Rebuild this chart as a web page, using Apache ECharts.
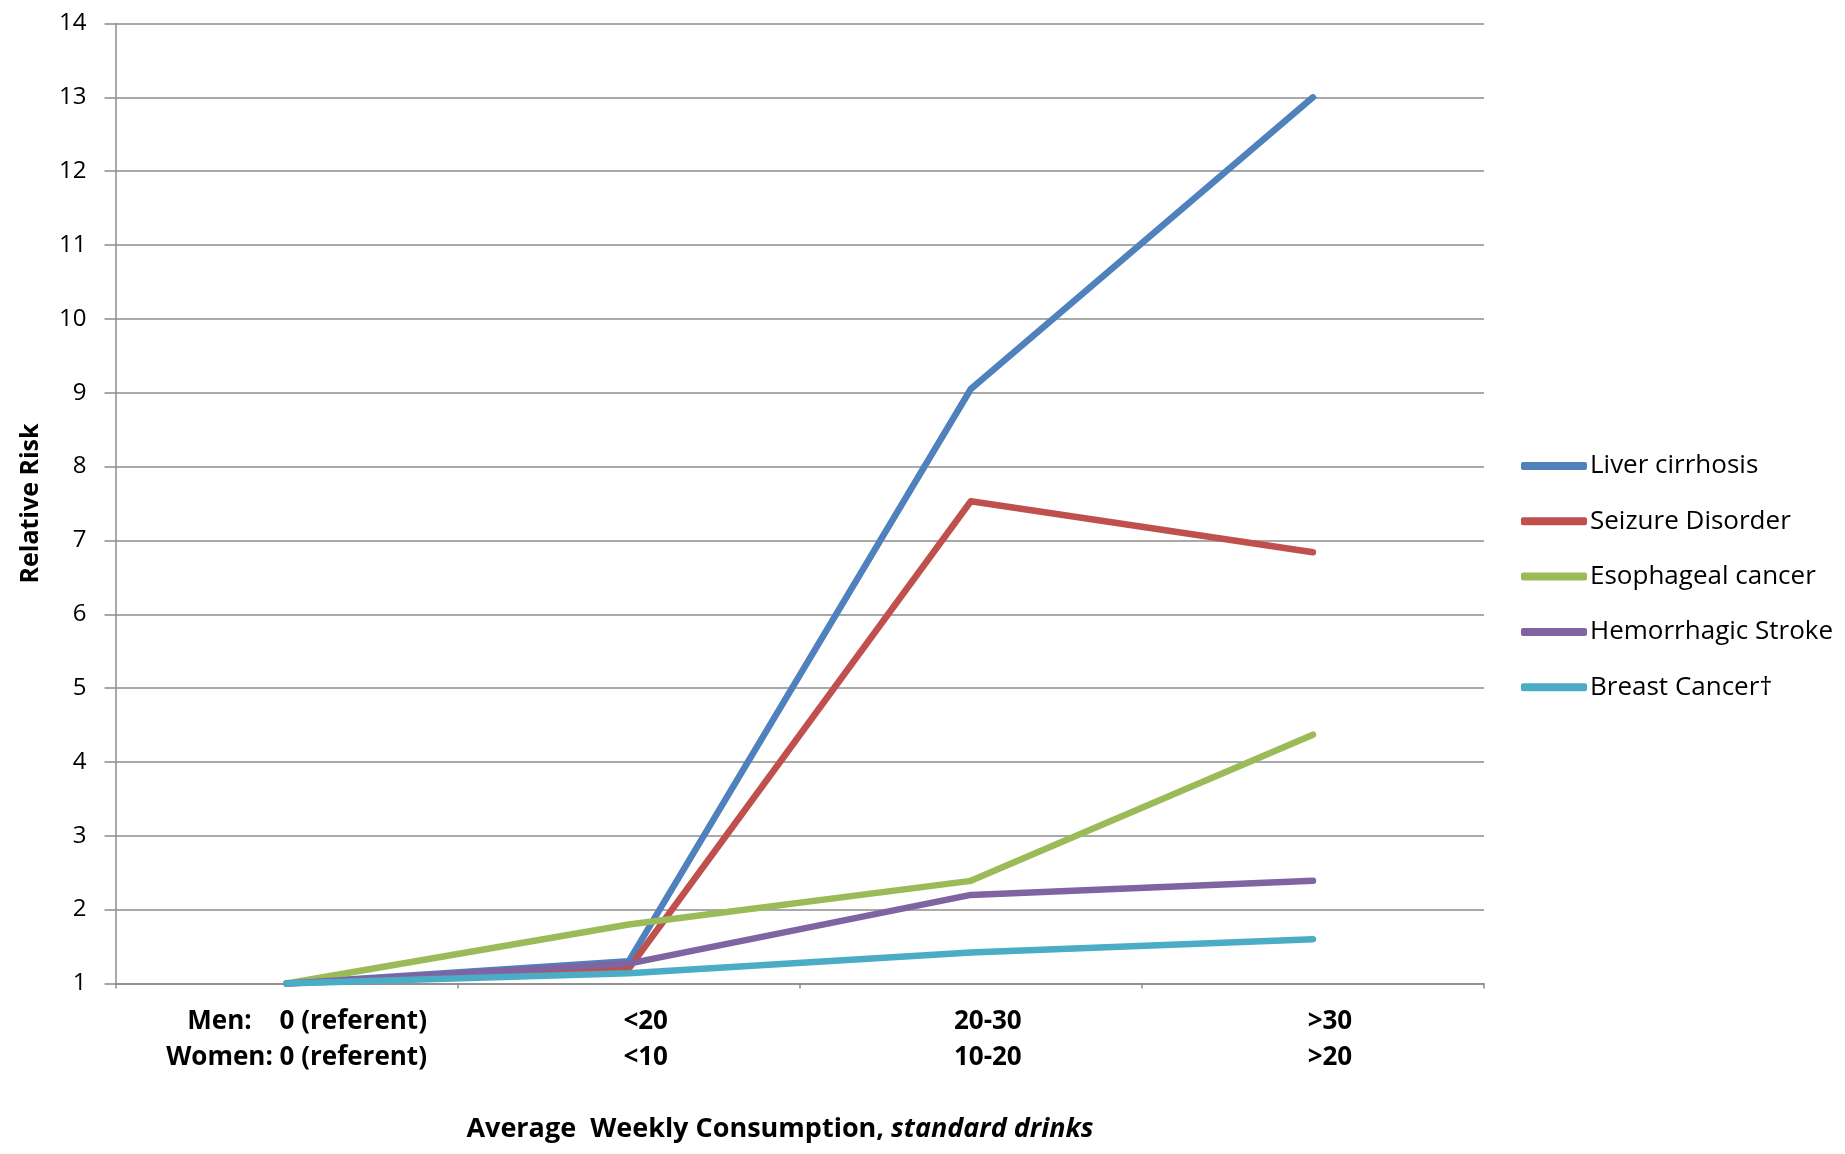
<!DOCTYPE html>
<html><head><meta charset="utf-8">
<script src="https://cdn.jsdelivr.net/npm/echarts@6/dist/echarts.min.js"></script>
<style>html,body{margin:0;padding:0;background:#fff}#c{width:1845px;height:1154px}</style>
</head><body><div id="c"></div>
<script>
// ---- data ----
const menLabels = ['0 (referent)', '<20', '20-30', '>30'];
const womenLabels = ['0 (referent)', '<10', '10-20', '>20'];
const seriesNames = ['Liver cirrhosis', 'Seizure Disorder', 'Esophageal cancer', 'Hemorrhagic Stroke', 'Breast Cancer\u2020'];
const liverCirrhosis = [1, 1.3, 9.05, 13.0];
const seizureDisorder = [1, 1.2, 7.53, 6.84];
const esophagealCancer = [1, 1.8, 2.39, 4.37];
const hemorrhagicStroke = [1, 1.27, 2.2, 2.39];
const breastCancer = [1, 1.14, 1.42, 1.6];
const yMin = 1, yMax = 14, yStep = 1;
const yAxisTitle = 'Relative Risk';
const xTitleMain = 'Average  Weekly Consumption, ';
const xTitleItalic = 'standard drinks';

// ---- style ----
const FONT = '"Open Sans", sans-serif';
const colors = ['#4F81BD', '#C0504D', '#9BBB59', '#8064A2', '#4BACC6'];
const gridGray = '#8c8c8c';

const ctx = document.createElement('canvas').getContext('2d');
ctx.font = 'bold 26px "Open Sans"';
const wWomen = ctx.measureText('Women:').width;
const wMen = ctx.measureText('Men:').width;
const half = (wWomen - wMen) / 2;
const firstShift = 20;

const chart = echarts.init(document.getElementById('c'), null, {renderer: 'canvas'});
const allData = [liverCirrhosis, seizureDisorder, esophagealCancer, hemorrhagicStroke, breastCancer];
const lbl = {fontFamily: FONT, fontWeight: 'bold', fontSize: 26, color: '#000', lineHeight: 36};

chart.setOption({
  animation: false,
  backgroundColor: '#fff',
  color: colors,
  grid: {left: 115.5, right: 361, top: 23.5, bottom: 170.5, containLabel: false, outerBoundsMode: 'none'},
  legend: {
    orient: 'vertical', left: 1521, top: 453, padding: 0,
    itemWidth: 66, itemHeight: 8, itemGap: 29.3, icon: 'roundRect',
    textStyle: {fontFamily: FONT, fontSize: 26, color: '#000', lineHeight: 24, padding: [0, 0, 0, -2]},
    data: seriesNames
  },
  xAxis: {
    type: 'category', data: menLabels, boundaryGap: true,
    axisLine: {show: true, lineStyle: {color: gridGray, width: 1.5}},
    axisTick: {show: true, length: 5, lineStyle: {color: gridGray, width: 1.5}},
    axisLabel: {
      interval: 0, margin: 20,
      formatter: function (v, i) {
        if (i === 0) return '{m|Men:}{r| ' + menLabels[0] + '}\n{w|Women:}{r| ' + womenLabels[0] + '}';
        return '{n|' + menLabels[i] + '}\n{n|' + womenLabels[i] + '}';
      },
      rich: {
        m: Object.assign({}, lbl, {padding: [0, half, 0, half + firstShift]}),
        w: Object.assign({}, lbl, {padding: [0, 0, 0, firstShift]}),
        r: Object.assign({}, lbl),
        n: Object.assign({}, lbl, {padding: [0, 0, 0, 34]})
      }
    }
  },
  yAxis: {
    type: 'value', min: yMin, max: yMax, interval: yStep,
    name: yAxisTitle, nameLocation: 'middle', nameGap: 72, nameRotate: 90,
    nameTextStyle: {fontFamily: FONT, fontWeight: 'bold', fontSize: 25, color: '#000'},
    axisLine: {show: true, lineStyle: {color: gridGray, width: 1.5}},
    axisTick: {show: true, length: 11, lineStyle: {color: gridGray, width: 1.5}},
    axisLabel: {fontFamily: FONT, fontSize: 24, color: '#000', margin: 29},
    splitLine: {show: true, lineStyle: {color: gridGray, width: 1.5}}
  },
  graphic: [{
    type: 'text', x: 780, y: 1129, z: 10,
    style: {
      text: '{b|' + xTitleMain + '}{i|' + xTitleItalic + '}',
      align: 'center', verticalAlign: 'middle', textAlign: 'center', textVerticalAlign: 'middle',
      rich: {
        b: {fontFamily: FONT, fontWeight: 'bold', fontSize: 27, fill: '#000', color: '#000'},
        i: {fontFamily: FONT, fontWeight: 'bold', fontStyle: 'italic', fontSize: 27, fill: '#000', color: '#000'}
      }
    }
  }],
  series: seriesNames.map(function (name, k) {
    return {
      name: name, type: 'line', data: allData[k], symbol: 'none', showSymbol: false,
      lineStyle: {width: 6.5, cap: 'round', join: 'round', color: colors[k]},
      itemStyle: {color: colors[k]}
    };
  })
});
</script>
</body></html>
